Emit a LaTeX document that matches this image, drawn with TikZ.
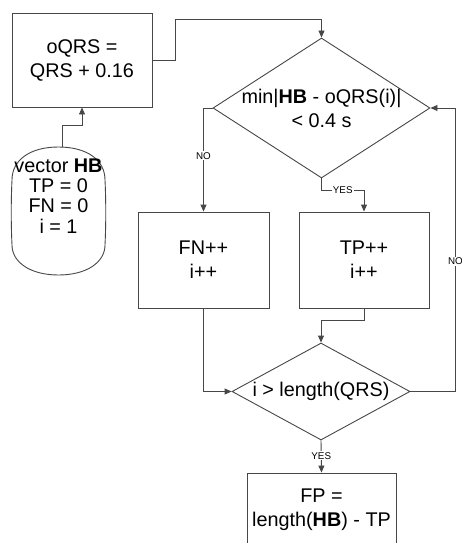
\documentclass[tikz,border=0pt]{standalone}
\usepackage{fontspec}
\setmainfont{Liberation Sans}
\usetikzlibrary{shapes.geometric,arrows.meta}
\begin{document}
\begin{tikzpicture}[x=1pt,y=-1pt,
  line/.style={draw=black!72,line width=0.9pt},
  arr/.style={line,-{Triangle[length=7pt,width=6pt]}},
  bigtxt/.style={font=\fontsize{19.8}{24}\selectfont,align=center,inner sep=0pt},
  boxnode/.style={line,rectangle,inner sep=0pt,bigtxt},
  dia/.style={line,diamond,inner sep=0pt},
  lbl/.style={fill=white,inner sep=1pt,font=\fontsize{9.8}{11}\selectfont}]
\clip (0,0) rectangle (462,543);
\fill[white] (0,0) rectangle (462,543);
% nodes
\node[boxnode,minimum width=140pt,minimum height=94pt] (oqrs) at (82,60) {oQRS =\\QRS + 0.16};
\node[inner sep=0pt,minimum width=93pt,minimum height=128pt] (init) at (58.5,211) {};
\draw[line] (12,180) .. controls (12,160) and (30,147) .. (58.5,147)
  .. controls (87,147) and (105,160) .. (105,180)
  .. controls (106,200) and (106,225) .. (105,245)
  .. controls (105,262) and (87,275) .. (58.5,275)
  .. controls (30,275) and (12,262) .. (12,245)
  .. controls (11,225) and (11,200) .. (12,180) -- cycle;
\node[bigtxt,font=\fontsize{19.8}{20.3}\selectfont] (inittxt) at (58.5,196) {vector \textbf{HB}\\TP = 0\\FN = 0\\i = 1};
\node[dia,minimum width=217pt,minimum height=140pt] (d1) at (321.5,108) {};
\node[bigtxt] (d1txt) at (321.5,108) {min|\textbf{HB} - oQRS(i)|\\< 0.4 s};
\node[boxnode,minimum width=131pt,minimum height=96pt] (fn) at (203.5,260) {FN++\\i++};
\node[boxnode,minimum width=130pt,minimum height=96pt] (tp) at (364,260) {TP++\\i++};
\node[dia,minimum width=178pt,minimum height=97pt] (d2) at (321,391.5) {};
\node[bigtxt] (d2txt) at (321,391.5) {i > length(QRS)};
\node[boxnode,minimum width=149pt,minimum height=74pt] (fp) at (321.5,510) {FP =\\length(\textbf{HB}) - TP};
% connectors
\draw[arr] ([xshift=3.5pt]init.north) |- ([yshift=-18pt]oqrs.south) -- (oqrs.south);
\draw[arr] (oqrs.east) -- ++(23,0) |- ([yshift=18pt]d1.north) -- (d1.north);
\draw[arr] (d1.west) -| node[lbl,pos=0.73]{NO} (fn.north);
\draw[arr] (d1.south) -- ++(0,12) -| node[lbl,pos=0.25]{YES} (tp.north);
\draw[arr] (fn.south) |- (d2.west);
\draw[arr] (tp.south) -- ++(0,12) -| (d2.north);
\draw[arr] (d2.east) -- ++(45,0) |- node[lbl,pos=0.23]{NO} (d1.east);
\draw[arr] (d2.south) -- node[lbl,pos=0.48]{YES} (fp.north);
\end{tikzpicture}
\end{document}
